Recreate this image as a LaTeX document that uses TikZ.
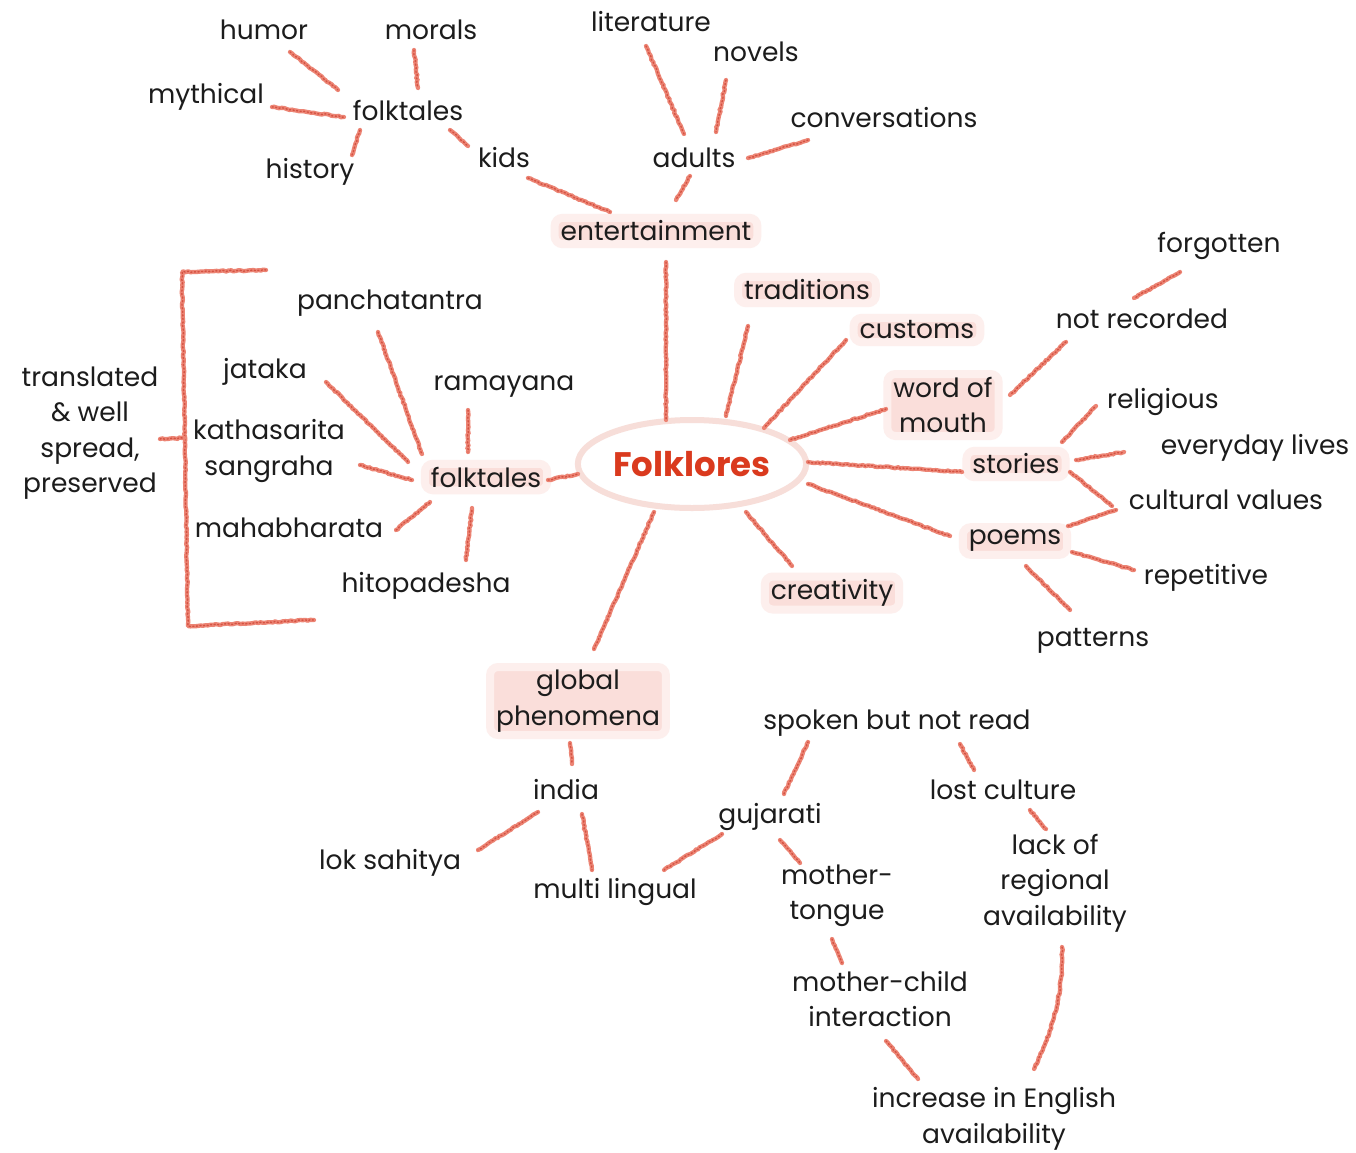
\documentclass[tikz,border=0pt]{standalone}
\usepackage{fontspec}
\setmainfont{Poppins}
\usetikzlibrary{shapes.geometric,decorations.pathmorphing}
\definecolor{chalk}{RGB}{236,132,116}
\definecolor{chalkd}{RGB}{212,82,66}
\definecolor{hl}{RGB}{249,216,211}
\definecolor{ring}{RGB}{247,222,217}
\definecolor{folkred}{RGB}{218,58,30}
\definecolor{ink}{RGB}{28,28,28}
\newcommand\conn[4]{\draw[chalk] ([shift={#2}]#1.center) -- ([shift={#4}]#3.center);}
\begin{document}
\begin{tikzpicture}[x=1pt,y=-1pt,
  every node/.style={font=\fontsize{26.5}{35.5}\selectfont, text=ink, align=center, inner sep=2pt},
  hlbox/.style={fill=hl!85, draw=hl!40, line width=8pt, rounded corners=8pt, inner xsep=6pt, inner ysep=3pt},
  chalk/.style={draw=chalk, line width=4.3pt, line cap=round, decorate,
    decoration={random steps, segment length=2.5pt, amplitude=0.6pt},
    postaction={draw=chalkd, line width=1.4pt, dash pattern=on 1.2pt off 2.4pt}}]
\pgfmathsetseed{7}
\fill[white] (0,0) rectangle (1356,1152);
\useasboundingbox (0,0) rectangle (1356,1152);

% plain nodes
\node (humor) at (264,30) {humor};
\node (morals) at (431,30) {morals};
\node (lit) at (651,22) {literature};
\node (novels) at (756,52) {novels};
\node (myth) at (206,97) {mythical};
\node (ftA) at (408,110) {folktales};
\node (conv) at (884,118) {conversations};
\node (hist) at (310,172) {history};
\node (kids) at (504,158) {kids};
\node (adults) at (694,158) {adults};
\node (forg) at (1219,246) {forgotten};
\node (panch) at (390,303) {panchatantra};
\node (notrec) at (1142,319) {not recorded};
\node (transl) at (90,433) {translated\\ \& well\\ spread,\\ preserved};
\node (jat) at (265,372) {jataka};
\node (ram) at (504,387) {ramayana};
\node (relig) at (1163,402) {religious};
\node (katha) at (269,451) {kathasarita\\ sangraha};
\node (every) at (1255,448) {everyday lives};
\node (cult) at (1226,500) {cultural values};
\node (maha) at (289,528) {mahabharata};
\node (rep) at (1206,578) {repetitive};
\node (hito) at (426,586) {hitopadesha};
\node (patt) at (1093,641) {patterns};
\node (spoken) at (897,723) {spoken but not read};
\node (india) at (566,790) {india};
\node (lost) at (1003,790) {lost culture};
\node (guj) at (770,817) {gujarati};
\node (lack) at (1055,883) {lack of\\ regional\\ availability};
\node (lok) at (390,863) {lok sahitya};
\node (multi) at (615,892) {multi lingual};
\node (mt) at (837,896) {mother-\\ tongue};
\node (mc) at (880,999) {mother-child\\ interaction};
\node (incr) at (994,1119) {increase in English\\ availability};

% highlighted nodes
\node[hlbox] (ent) at (656,231) {entertainment};
\node[hlbox] (trad) at (807,290) {traditions};
\node[hlbox] (cust) at (917,330) {customs};
\node[hlbox] (wom) at (943,405) {word of\\ mouth};
\node[hlbox] (stor) at (1016,464) {stories};
\node[hlbox] (ftB) at (486,477) {folktales};
\node[hlbox] (poems) at (1015,541) {poems};
\node[hlbox] (creat) at (832,593) {creativity};
\node[hlbox] (glob) at (578,701) {global\\ phenomena};

% centre
\node[ellipse, draw=ring, line width=6pt, fill=white, minimum width=222pt, minimum height=88pt,
  text=folkred, font=\bfseries\fontsize{34}{40}\selectfont] (folk) at (692,464) {Folklores};

% connectors
\conn{humor}{(26,22)}{ftA}{(-70,-20)}
\conn{morals}{(-17,20)}{ftA}{(10,-22)}
\conn{myth}{(66,10)}{ftA}{(-64,7)}
\conn{hist}{(42,-17)}{ftA}{(-48,20)}
\conn{ftA}{(42,20)}{kids}{(-36,-12)}
\conn{kids}{(24,20)}{ent}{(-46,-19)}
\conn{lit}{(-5,24)}{adults}{(-10,-24)}
\conn{novels}{(-30,28)}{adults}{(22,-26)}
\conn{conv}{(-76,22)}{adults}{(54,0)}
\conn{adults}{(-4,18)}{ent}{(20,-31)}
\conn{ent}{(10,31)}{folk}{(-26,-44)}
\conn{trad}{(-59,36)}{folk}{(34,-48)}
\conn{cust}{(-71,10)}{folk}{(72,-36)}
\conn{wom}{(-57,4)}{folk}{(98,-24)}
\conn{notrec}{(-76,23)}{wom}{(67,-10)}
\conn{forg}{(-39,26)}{notrec}{(-8,-21)}
\conn{folk}{(116,-2)}{stor}{(-54,8)}
\conn{stor}{(46,-22)}{relig}{(-67,4)}
\conn{stor}{(60,-4)}{every}{(-131,4)}
\conn{stor}{(54,8)}{cult}{(-114,6)}
\conn{poems}{(53,-15)}{cult}{(-110,10)}
\conn{folk}{(116,20)}{poems}{(-65,-5)}
\conn{poems}{(57,11)}{rep}{(-72,-8)}
\conn{poems}{(11,25)}{patt}{(-23,-31)}
\conn{folk}{(54,48)}{creat}{(-40,-27)}
\conn{folk}{(-38,48)}{glob}{(16,-52)}
\conn{ftB}{(62,3)}{folk}{(-114,10)}
\conn{panch}{(-12,29)}{ftB}{(-64,-23)}
\conn{jat}{(61,10)}{ftB}{(-78,-15)}
\conn{ram}{(-36,23)}{ftB}{(-18,-25)}
\conn{katha}{(91,14)}{ftB}{(-74,3)}
\conn{maha}{(107,2)}{ftB}{(-56,25)}
\conn{hito}{(40,-26)}{ftB}{(-14,31)}
\conn{glob}{(-8,42)}{india}{(6,-26)}
\conn{india}{(-28,22)}{lok}{(88,-13)}
\conn{india}{(16,24)}{multi}{(-23,-22)}
\conn{multi}{(49,-22)}{guj}{(-48,17)}
\conn{guj}{(14,-23)}{spoken}{(-89,19)}
\conn{spoken}{(63,21)}{lost}{(-29,-20)}
\conn{guj}{(10,23)}{mt}{(-37,-33)}
\conn{lost}{(27,20)}{lack}{(-9,-54)}
\conn{mt}{(-5,43)}{mc}{(-38,-36)}
\conn{mc}{(6,42)}{incr}{(-76,-40)}
\draw[chalk] ([shift={(7,64)}]lack.center) .. controls ([shift={(9,120)}]lack.center) and ([shift={(52,-75)}]incr.center) .. ([shift={(40,-50)}]incr.center);

% bracket
\coordinate (bt) at (266,270);
\coordinate (btl) at (182,272);
\coordinate (bbl) at (188,626);
\coordinate (bb) at (314,620);
\coordinate (bm) at (184,438);
\draw[chalk, line join=round] (bt) -- (btl) -- (bbl) -- (bb);
\draw[chalk] ([shift={(70,6)}]transl.center) -- (bm);
\end{tikzpicture}
\end{document}
